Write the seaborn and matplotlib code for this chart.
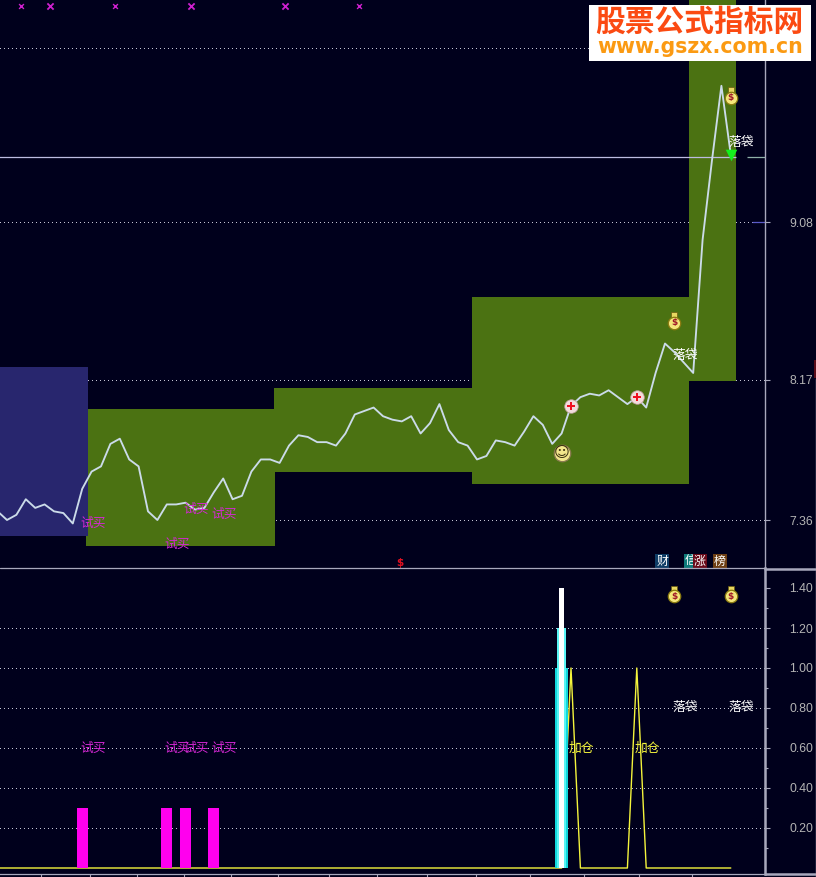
import numpy as np
import matplotlib
matplotlib.use('Agg')
import matplotlib.pyplot as plt
import seaborn as sns
from matplotlib.patches import Rectangle
from matplotlib.lines import Line2D
from matplotlib.transforms import ScaledTranslation

# price pane, one value per bar
close = [7.41, 7.36, 7.39, 7.48, 7.43, 7.45, 7.41, 7.40, 7.34, 7.54, 7.64, 7.67, 7.80, 7.83, 7.71, 7.67,
         7.41, 7.36, 7.45, 7.45, 7.46, 7.42, 7.43, 7.52, 7.60, 7.48, 7.50, 7.64, 7.71, 7.71, 7.69, 7.79,
         7.85, 7.84, 7.81, 7.81, 7.79, 7.86, 7.97, 7.99, 8.01, 7.96, 7.94, 7.93, 7.96, 7.86, 7.92, 8.03,
         7.88, 7.81, 7.79, 7.71, 7.73, 7.82, 7.81, 7.79, 7.87, 7.96, 7.91, 7.80, 7.86, 8.02, 8.07, 8.09,
         8.08, 8.11, 8.07, 8.03, 8.07, 8.01, 8.21, 8.38, 8.33, 8.27, 8.21, 8.98, 9.44, 9.87, 9.47]
bars = np.arange(len(close))

band_left = [9.4, 29.4, 50.5, 73.55]
band_right = [29.5, 50.5, 73.55, 78.55]
band_top = [8.00, 8.125, 8.65, 10.40]
band_bottom = [7.21, 7.64, 7.57, 8.165]
blue_left, blue_right, blue_top, blue_bottom = 0.0, 9.6, 8.245, 7.27

price_ticks = [7.36, 8.17, 9.08, 10.09]
price_labels = ['7.36', '8.17', '9.08', '']  # the top one sits behind the stamp
last_price = 9.458

buy_bars = [9, 18, 20, 23]
buy_prices = [7.34, 7.22, 7.42, 7.39]
drop_bars = [72, 78]
drop_prices = [8.31, 9.54]
bag_prices = [8.50, 9.80]
add_bars = [61, 68]
add_prices = [8.02, 8.07]
smile_bar, smile_price = 60, 7.75
arrow_bar, arrow_price = 78, 9.47
cross_bars = [2.5, 5.6, 12.5, 20.6, 30.6, 38.4]
cross_big = [False, True, False, True, True, False]
cross_price = 10.33
flag_labels = ['财', '信', '涨', '榜']
flag_bars = [70.7, 73.7, 74.7, 76.85]
flag_colors = ['#0f3d66', '#0f7a7a', '#6a0a1a', '#6e3f14']
flag_price = 7.12
dollar_bar, dollar_price = 42.8, 7.11

# indicator pane
ind_ticks = [0.2, 0.4, 0.6, 0.8, 1.0, 1.2, 1.4]
ind_labels = ['0.20', '0.40', '0.60', '0.80', '1.00', '1.20', '1.40']
ind_grid = [0.2, 0.4, 0.6, 0.8, 1.0, 1.2]
buy_height = [0.3, 0.3, 0.3, 0.3]
add_line = [0.0] * 79
add_line[61] = 1.0
add_line[68] = 1.0
stack_bar = 60
stack_heights = [1.0, 1.2, 1.4]
label_level_low = 0.6
label_level_high = 0.8
bag_level = 1.36
date_ticks = [4.6, 9.8, 14.8, 19.8, 24.8, 29.8, 35.3, 40.4, 45.7, 50.9, 56.6, 62.4, 68.2, 73.9]

BG = '#00001c'
GRID = '#c4c4d4'
AXIS = '#a8a8bc'
TEXT = '#b4b4b4'

sns.set_theme(style='dark', rc={'axes.facecolor': BG, 'figure.facecolor': BG})
plt.rcParams['font.family'] = ['Noto Sans CJK SC', 'DejaVu Sans']

W, H = 816, 877
fig = plt.figure(figsize=(W / 100, H / 100), dpi=100)
ax = fig.add_axes([0, 1 - 568 / H, 765 / W, 568 / H])
ax2 = fig.add_axes([0, 1 - 874 / H, 765 / W, 306 / H])


def money_bag(a, x, y):
    # bag body, neck and the dollar sign
    neck = a.transData + ScaledTranslation(0, 7.5 / 100, fig.dpi_scale_trans)
    a.plot([x], [y], marker='s', ms=4, color='#e8d860', mec='#6a5a10', mew=0.5, transform=neck, zorder=8, clip_on=False)
    a.scatter([x], [y], s=80, color='#f4e67a', edgecolor='#8a7a10', linewidth=0.9, zorder=8)
    a.text(x, y, '$', color='#a01828', fontsize=6.5, fontweight='bold', ha='center', va='center',
           family='DejaVu Sans', zorder=9)


def dotted(a, levels):
    for v in levels:
        a.axhline(v, color=GRID, lw=0.72, ls=(0, (1, 3)), zorder=0.5, antialiased=False)


def mark_label(a, x, y, s, c):
    # signal labels start a little left of their bar
    a.annotate(s, (x, y), xytext=(-1.6, 0), textcoords='offset points', color=c, fontsize=9.2,
               ha='left', va='center', zorder=6)


# top pane
dotted(ax, price_ticks)
ax.bar(band_left, np.subtract(band_top, band_bottom), bottom=band_bottom,
       width=np.subtract(band_right, band_left), align='edge', color='#4b7212', linewidth=0, zorder=1)
ax.bar([blue_left], [blue_top - blue_bottom], bottom=[blue_bottom], width=[blue_right - blue_left],
       align='edge', color='#28266e', linewidth=0, zorder=1.5)
ax.hlines(last_price, 0, 78.55, color='#bcbce0', lw=0.9, zorder=2)
ax.hlines(last_price, 79.7, 82, color='#8fb0a8', lw=0.9, zorder=2)
ax.hlines(price_ticks[2], 80.3, 82, color='#5a5ac8', lw=0.9, zorder=2)
sns.lineplot(x=bars, y=close, ax=ax, color='#cbdbe9', linewidth=1.35, zorder=3, legend=False)

for b, p in zip(buy_bars, buy_prices):
    mark_label(ax, b, p, '试买', '#d428d4')
for b, p in zip(drop_bars, drop_prices):
    mark_label(ax, b, p, '落袋', 'white')
for b, p in zip(drop_bars, bag_prices):
    money_bag(ax, b, p)

ax.scatter(add_bars, add_prices, s=95, color='#f2dcdc', edgecolor='#c0a0a0', linewidth=0.5, zorder=5)
ax.scatter(add_bars, add_prices, s=34, marker='P', color='#f01020', linewidth=0, zorder=6)
ax.scatter([smile_bar], [smile_price], s=140, color='#f2e68c', edgecolor='#8a7a50', linewidth=0.9, zorder=5)
ax.text(smile_bar, smile_price, '☺', color='#3a3010', fontsize=11, ha='center', va='center',
        family='DejaVu Sans', zorder=6)
ax.scatter([arrow_bar], [arrow_price], s=70, marker='v', color='#14f01e', linewidth=0, zorder=7)

for b, big in zip(cross_bars, cross_big):
    ax.scatter([b], [cross_price], s=20 if big else 12, marker='x', color='#d020d0',
               linewidth=1.3 if big else 1.0, zorder=6)
for b, t, c in zip(flag_bars, flag_labels, flag_colors):
    ax.text(b, flag_price, t, color='white', fontsize=8.6, ha='center', va='center', zorder=6,
            bbox=dict(facecolor=c, edgecolor='none', pad=0.6))
ax.text(dollar_bar, dollar_price, '$', color='#e01020', fontsize=7.5, fontweight='bold', ha='center',
        va='center', family='DejaVu Sans', zorder=6)

# bottom pane
dotted(ax2, ind_grid)
sns.lineplot(x=bars[:79], y=add_line, ax=ax2, color='#f4f43c', linewidth=1.0, zorder=2, legend=False)
sns.barplot(x=buy_bars, y=buy_height, ax=ax2, native_scale=True, color='#ff00ee', width=0.585,
            saturation=1, linewidth=0, zorder=3)
for h, w, c in zip(stack_heights, [1.38, 0.96, 0.53], ['#10d8dc', '#58f4f4', '#ffffff']):
    ax2.bar([stack_bar], [h], width=w, color=c, linewidth=0, zorder=3 + h)

for b in buy_bars:
    mark_label(ax2, b, label_level_low, '试买', '#d428d4')
for b in add_bars:
    mark_label(ax2, b, label_level_low, '加仓', '#f4f43c')
for b in drop_bars:
    mark_label(ax2, b, label_level_high, '落袋', 'white')
    money_bag(ax2, b, bag_level)

x0, x1 = 2.4 / 9.4, (765 + 2.4) / 9.4
for a in (ax, ax2):
    a.set_xlim(x0, x1)
    a.set_xlabel('')
    a.set_ylabel('')
    a.yaxis.tick_right()
    for s in ('top', 'left', 'bottom'):
        a.spines[s].set_visible(False)
    a.spines['right'].set_color(AXIS)
    a.spines['right'].set_linewidth(1.0)
    a.grid(False)
ax.set_ylim(7.36 - 48 / 173, 7.36 + 520 / 173)
ax2.set_ylim(-6 / 200, 300 / 200)
ax2.spines['right'].set_linewidth(1.8)
ax2.spines['bottom'].set_visible(True)
ax2.spines['bottom'].set_color(AXIS)
ax2.spines['bottom'].set_linewidth(0.9)

ax.set_xticks([])
ax.set_yticks(price_ticks, price_labels)
ax2.set_xticks(date_ticks, [''] * len(date_ticks))
ax2.set_yticks(ind_ticks, ind_labels)
ax2.set_yticks(np.arange(0.1, 1.5, 0.2), minor=True)
for a in (ax, ax2):
    a.tick_params(axis='y', which='major', length=3.8, width=0.8, color=AXIS, labelcolor=TEXT, pad=13.5,
                  labelsize=8.8, right=True, left=False)
    for t in a.get_yticklabels():
        t.set_family(['Liberation Sans'])
ax2.tick_params(axis='y', which='minor', length=2, width=0.8, color=AXIS, right=True, left=False)
ax2.tick_params(axis='x', length=2.6, width=0.8, color=AXIS, bottom=True)

# panel frame on the right and the pane separator
fig.add_artist(Line2D([0, 765 / W], [1 - 568 / H] * 2, color=AXIS, lw=0.9))
fig.add_artist(Line2D([765 / W, 815 / W], [1 - 569 / H] * 2, color=AXIS, lw=1.8))
fig.add_artist(Line2D([765 / W, 815 / W], [1 - 874 / H] * 2, color=AXIS, lw=1.8))
fig.add_artist(Line2D([815.5 / W] * 2, [0, 1 - 379 / H], color=AXIS, lw=1.0))
fig.add_artist(Rectangle((814 / W, 1 - 378 / H), 2 / W, 18 / H, color='#5a0c18', lw=0))

# site stamp
fig.add_artist(Rectangle((589 / W, 1 - 61 / H), 222 / W, 56 / H, color='white', lw=0, zorder=10))
fig.text(699 / W, 1 - 22 / H, '股票公式指标网', color='#fb4a12', fontsize=21.4, fontweight='bold',
         ha='center', va='center', zorder=11)
fig.text(700 / W, 1 - 47 / H, 'www.gszx.com.cn', color='#fb9a12', fontsize=14.8, fontweight='bold',
         ha='center', va='center', family=['DejaVu Sans'], zorder=11)

fig.savefig('out.png', dpi=100, facecolor=BG)
